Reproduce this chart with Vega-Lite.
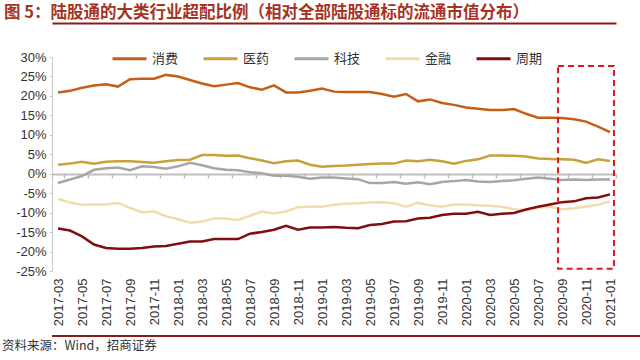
{
  "$schema": "https://vega.github.io/schema/vega-lite/v6.json",
  "padding": {"left": 0, "right": 0, "top": 4, "bottom": 0},
  "background": "white",
  "title": {"text": "图 5：陆股通的大类行业超配比例（相对全部陆股通标的流通市值分布）", "anchor": "start", "frame": "bounds", "font": "Noto Sans CJK SC", "fontSize": 16.5, "fontWeight": "bold", "color": "#A6331F", "offset": 2, "dx": 4},
  "spacing": 9,
  "config": {"view": {"stroke": null}},
  "vconcat": [
    {
      "width": 564, "height": 214,
      "layer": [
        {
          "data": {"values": [
            {"m":"2017-03","消费":20.9,"医药":2.3,"科技":-2.4,"金融":-6.5,"周期":-14.1},
            {"m":"2017-04","消费":21.3,"医药":2.6,"科技":-1.5,"金融":-7.4,"周期":-14.6},
            {"m":"2017-05","消费":22.1,"医药":3.1,"科技":-0.6,"金融":-8.0,"周期":-16.1},
            {"m":"2017-06","消费":22.7,"医药":2.6,"科技":1.0,"金融":-7.9,"周期":-18.2},
            {"m":"2017-07","消费":23.0,"医药":3.1,"科技":1.4,"金融":-7.9,"周期":-19.1},
            {"m":"2017-08","消费":22.4,"医药":3.2,"科技":1.6,"金融":-7.5,"周期":-19.3},
            {"m":"2017-09","消费":24.3,"医药":3.2,"科技":0.9,"金融":-8.8,"周期":-19.3},
            {"m":"2017-10","消费":24.4,"医药":3.0,"科技":1.9,"金融":-9.9,"周期":-19.1},
            {"m":"2017-11","消费":24.4,"医药":2.8,"科技":1.7,"金融":-9.7,"周期":-18.7},
            {"m":"2017-12","消费":25.4,"医药":3.2,"科技":1.3,"金融":-10.9,"周期":-18.6},
            {"m":"2018-01","消费":25.0,"医药":3.5,"科技":1.9,"金融":-11.7,"周期":-18.0},
            {"m":"2018-02","消费":24.1,"医药":3.6,"科技":2.8,"金融":-12.6,"周期":-17.4},
            {"m":"2018-03","消费":23.2,"医药":4.8,"科技":2.2,"金融":-12.3,"周期":-17.4},
            {"m":"2018-04","消费":22.5,"医药":4.8,"科技":1.4,"金融":-11.5,"周期":-16.8},
            {"m":"2018-05","消费":22.9,"医药":4.6,"科技":1.0,"金融":-11.5,"周期":-16.8},
            {"m":"2018-06","消费":23.3,"医药":4.7,"科技":0.9,"金融":-11.9,"周期":-16.8},
            {"m":"2018-07","消费":22.2,"医药":4.0,"科技":0.4,"金融":-10.8,"周期":-15.4},
            {"m":"2018-08","消费":21.6,"医药":3.4,"科技":0.1,"金融":-9.7,"周期":-15.0},
            {"m":"2018-09","消费":22.7,"医药":2.7,"科技":-0.5,"金融":-10.2,"周期":-14.4},
            {"m":"2018-10","消费":20.9,"医药":3.2,"科技":-0.5,"金融":-9.7,"周期":-13.4},
            {"m":"2018-11","消费":20.9,"医药":3.4,"科技":-0.8,"金融":-8.6,"周期":-14.4},
            {"m":"2018-12","消费":21.3,"医药":2.3,"科技":-1.3,"金融":-8.5,"周期":-13.8},
            {"m":"2019-01","消费":21.9,"医药":1.8,"科技":-1.0,"金融":-8.5,"周期":-13.8},
            {"m":"2019-02","消费":21.1,"医药":2.0,"科技":-1.0,"金融":-8.0,"周期":-13.7},
            {"m":"2019-03","消费":21.0,"医药":2.1,"科技":-1.2,"金融":-7.7,"周期":-13.9},
            {"m":"2019-04","消费":21.0,"医药":2.3,"科技":-1.4,"金融":-7.6,"周期":-14.0},
            {"m":"2019-05","消费":21.0,"医药":2.5,"科技":-2.4,"金融":-7.4,"周期":-13.2},
            {"m":"2019-06","消费":20.5,"医药":2.6,"科技":-2.4,"金融":-7.3,"周期":-12.9},
            {"m":"2019-07","消费":19.8,"医药":2.6,"科技":-2.1,"金融":-7.6,"周期":-12.3},
            {"m":"2019-08","消费":20.5,"医药":3.4,"科技":-2.6,"金融":-8.5,"周期":-12.2},
            {"m":"2019-09","消费":18.6,"医药":3.2,"科技":-2.2,"金融":-7.5,"周期":-11.5},
            {"m":"2019-10","消费":19.1,"医药":3.6,"科技":-2.7,"金融":-8.1,"周期":-11.3},
            {"m":"2019-11","消费":18.2,"医药":3.2,"科技":-2.1,"金融":-8.5,"周期":-10.6},
            {"m":"2019-12","消费":17.7,"医药":2.6,"科技":-1.9,"金融":-7.9,"周期":-10.3},
            {"m":"2020-01","消费":17.0,"医药":3.3,"科技":-1.6,"金融":-7.9,"周期":-10.3},
            {"m":"2020-02","消费":16.7,"医药":3.7,"科技":-2.0,"金融":-8.1,"周期":-9.8},
            {"m":"2020-03","消费":16.4,"医药":4.7,"科技":-2.1,"金融":-8.2,"周期":-10.6},
            {"m":"2020-04","消费":16.4,"医药":4.7,"科技":-1.9,"金融":-8.5,"周期":-10.3},
            {"m":"2020-05","消费":16.6,"医药":4.6,"科技":-1.7,"金融":-9.1,"周期":-10.1},
            {"m":"2020-06","消费":15.4,"医药":4.4,"科技":-1.3,"金融":-9.4,"周期":-9.2},
            {"m":"2020-07","消费":14.4,"医药":3.9,"科技":-1.0,"金融":-8.7,"周期":-8.5},
            {"m":"2020-08","消费":14.4,"医药":3.8,"科技":-1.3,"金融":-8.5,"周期":-7.9},
            {"m":"2020-09","消费":14.3,"医药":3.7,"科技":-1.6,"金融":-9.1,"周期":-7.3},
            {"m":"2020-10","消费":14.0,"医药":3.6,"科技":-1.5,"金融":-8.9,"周期":-7.1},
            {"m":"2020-11","消费":13.4,"医药":2.8,"科技":-1.6,"金融":-8.4,"周期":-6.3},
            {"m":"2020-12","消费":12.1,"医药":3.7,"科技":-1.5,"金融":-8.0,"周期":-6.1},
            {"m":"2021-01","消费":10.7,"医药":3.3,"科技":-1.5,"金融":-7.1,"周期":-5.3}
          ]},
          "transform": [{"fold": ["消费","医药","科技","金融","周期"], "as": ["s","v"]}],
          "mark": {"type": "line", "strokeWidth": 2.5},
          "encoding": {
            "x": {
              "field": "m", "type": "ordinal", "bandPosition": 0.5,
              "scale": {"type": "band", "paddingInner": 0, "paddingOuter": 0},
              "axis": {
                "values": ["2017-03","2017-05","2017-07","2017-09","2017-11","2018-01","2018-03","2018-05","2018-07","2018-09","2018-11","2019-01","2019-03","2019-05","2019-07","2019-09","2019-11","2020-01","2020-03","2020-05","2020-07","2020-09","2020-11","2021-01"],
                "title": null, "grid": false, "offset": -97, "tickBand": "extent",
                "tickSize": 4, "tickColor": "#BFBFBF", "tickWidth": 1.5,
                "domainColor": "#BFBFBF", "domainWidth": 2,
                "labelAngle": -90, "labelAlign": "right", "labelBaseline": "middle",
                "labelPadding": 100, "labelFont": "Liberation Sans", "labelFontSize": 13,
                "labelColor": "#333333", "labelOverlap": false, "labelBound": false
              }
            },
            "y": {
              "field": "v", "type": "quantitative",
              "scale": {"domain": [-25, 30], "nice": false, "zero": false},
              "axis": {
                "values": [-25,-20,-15,-10,-5,0,5,10,15,20,25,30],
                "labelExpr": "datum.value + '%'", "labelOverlap": false,
                "title": null, "grid": false, "minExtent": 52,
                "domainColor": "#C8C8C8", "tickColor": "#C8C8C8", "tickSize": 3,
                "labelPadding": 3, "labelFont": "Liberation Sans", "labelFontSize": 13,
                "labelColor": "#333333"
              }
            },
            "color": {
              "field": "s", "type": "nominal",
              "scale": {"domain": ["消费","医药","科技","金融","周期"], "range": ["#C55E17","#C9A03A","#A6A6A6","#F2DCAE","#7F0F0F"]},
              "legend": {
                "orient": "none", "legendX": 54, "legendY": -22, "padding": 5,
                "direction": "horizontal", "columns": 5, "title": null,
                "symbolType": "stroke", "symbolSize": 1156, "symbolStrokeWidth": 3,
                "labelFont": "Noto Sans CJK SC", "labelFontSize": 13, "labelColor": "#333333",
                "labelOffset": 4, "columnPadding": 18
              }
            }
          }
        },
        {
          "data": {"values": [{"x0": 41.67, "x1": 46.33, "y0": -24.4, "y1": 27.7}]},
          "mark": {"type": "rect", "fillOpacity": 0, "fill": "white", "stroke": "#E3141B", "strokeWidth": 2, "strokeDash": [6, 4]},
          "encoding": {
            "x": {
              "field": "x0", "type": "quantitative",
              "scale": {"domain": [-0.5, 46.5], "nice": false, "zero": false},
              "axis": {"orient": "top", "offset": 34, "domainColor": "#8B1A1A", "domainWidth": 2, "ticks": false, "labels": false, "grid": false, "title": null}
            },
            "x2": {"field": "x1"},
            "y": {
              "field": "y0", "type": "quantitative",
              "axis": {
                "values": [-25,-20,-15,-10,-5,0,5,10,15,20,25,30],
                "labelExpr": "datum.value + '%'", "labelOverlap": false,
                "title": null, "grid": false, "minExtent": 52,
                "domainColor": "#C8C8C8", "tickColor": "#C8C8C8", "tickSize": 3,
                "labelPadding": 3, "labelFont": "Liberation Sans", "labelFontSize": 13,
                "labelColor": "#333333"
              }
            },
            "y2": {"field": "y1"}
          }
        }
      ],
      "resolve": {"scale": {"x": "independent"}, "axis": {"x": "independent"}}
    },
    {
      "width": 640, "height": 2,
      "view": {"fill": "#8B1A1A", "stroke": null},
      "data": {"values": [{"a": 0, "b": 1}]},
      "mark": {"type": "rect", "color": "#8B1A1A"},
      "encoding": {
        "x": {"field": "a", "type": "quantitative", "scale": {"domain": [0, 1]}, "axis": null},
        "x2": {"field": "b"}
      },
      "title": {"text": "资料来源：Wind，招商证券", "orient": "bottom", "anchor": "start", "frame": "group", "font": "Noto Sans CJK SC", "fontSize": 12.5, "fontWeight": "normal", "color": "#333333", "offset": 3, "dx": -50}
    }
  ]
}
